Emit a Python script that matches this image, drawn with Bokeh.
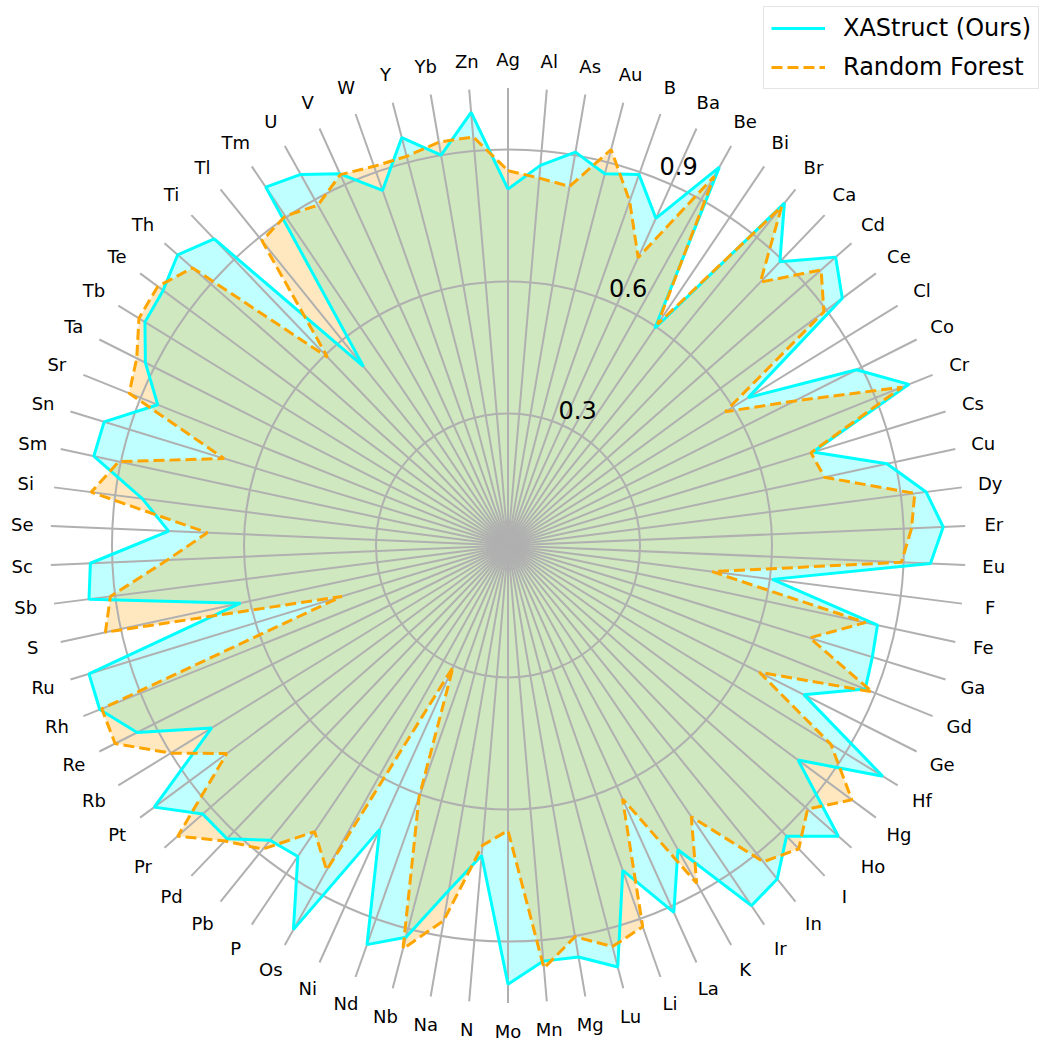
import numpy as np
from bokeh.plotting import figure
from bokeh.models import Legend, LegendItem, Range1d
from bokeh.embed import file_html
from bokeh.resources import INLINE
from bokeh.core.properties import value

# ---------------- data ----------------
elements = ["Ag", "Al", "As", "Au", "B", "Ba", "Be", "Bi", "Br", "Ca", "Cd", "Ce", "Cl", "Co",
            "Cr", "Cs", "Cu", "Dy", "Er", "Eu", "F", "Fe", "Ga", "Gd", "Ge", "Hf", "Hg", "Ho",
            "I", "In", "Ir", "K", "La", "Li", "Lu", "Mg", "Mn", "Mo", "N", "Na", "Nb", "Nd",
            "Ni", "Os", "P", "Pb", "Pd", "Pr", "Pt", "Rb", "Re", "Rh", "Ru", "S", "Sb", "Sc",
            "Se", "Si", "Sm", "Sn", "Sr", "Ta", "Tb", "Te", "Th", "Ti", "Tl", "Tm", "U", "V",
            "W", "Y", "Yb", "Zn"]

xastruct = [0.810, 0.867, 0.907, 0.873, 0.894, 0.816, 0.985, 0.596, 1.000, 0.893, 0.992, 0.945,
            0.641, 0.887, 0.982, 0.725, 0.881, 0.958, 0.990, 0.961, 0.606, 0.859, 0.866, 0.875,
            0.753, 1.000, 0.820, 1.000, 0.915, 0.974, 0.988, 0.792, 0.915, 0.783, 0.990, 0.949,
            0.948, 0.997, 0.707, 0.795, 0.920, 0.962, 0.708, 1.000, 0.853, 0.861, 0.923, 0.924,
            1.000, 0.791, 0.944, 1.000, 0.996, 0.622, 0.960, 0.950, 0.772, 0.838, 0.963, 0.960,
            0.858, 0.923, 0.969, 0.975, 1.000, 0.965, 0.523, 0.983, 0.966, 0.927, 0.856, 0.958,
            0.900, 0.988]

random_forest = [0.852, 0.838, 0.828, 0.930, 0.830, 0.718, 0.961, 0.607, 0.990, 0.829, 0.948,
                 0.893, 0.580, 0.730, 0.965, 0.720, 0.736, 0.932, 0.918, 0.895, 0.468, 0.831,
                 0.717, 0.892, 0.640, 0.862, 0.972, 0.907, 0.955, 0.924, 0.744, 0.879, 0.632,
                 0.919, 0.942, 0.902, 0.964, 0.648, 0.684, 0.865, 0.947, 0.607, 0.303, 0.845,
                 0.785, 0.887, 0.930, 1.000, 0.795, 0.900, 1.000, 0.995, 0.395, 0.936, 0.911,
                 0.775, 0.684, 0.955, 0.905, 0.675, 0.928, 0.945, 0.985, 0.990, 0.955, 0.593,
                 0.890, 0.904, 0.886, 0.925, 0.914, 0.914, 0.930, 0.932]

r_ticks = [0.3, 0.6, 0.9]
r_tick_labels = ["0.3", "0.6", "0.9"]
r_max = 1.04
label_radius = 1.105
r_label_angle_deg = 22.5

# ---------------- geometry ----------------
n = len(elements)
theta = 2 * np.pi * np.arange(n) / n          # clockwise from top
sin_t, cos_t = np.sin(theta), np.cos(theta)

def polar_xy(r):
    r = np.asarray(r, dtype=float)
    return r * sin_t, r * cos_t

xa_x, xa_y = polar_xy(xastruct)
rf_x, rf_y = polar_xy(random_forest)

W, H = 1045, 1042
U = 440.0                  # pixels per unit radius
cx, cy = 507.5, 545.0      # centre in canvas pixels

p = figure(width=W, height=H, output_backend="svg", toolbar_location=None,
           x_axis_type=None, y_axis_type=None, min_border=0,
           x_range=Range1d(-cx / U, (W - cx) / U),
           y_range=Range1d(-(H - cy) / U, cy / U))
p.outline_line_color = None
p.grid.visible = False
p.background_fill_color = "white"

# fills (below grid)
p.patch(xa_x, xa_y, fill_color="cyan", fill_alpha=0.25, line_color=None)
p.patch(rf_x, rf_y, fill_color="orange", fill_alpha=0.25, line_color=None)

# grid: spokes and circles
grid_col = "#b0b0b0"
p.segment(x0=np.zeros(n), y0=np.zeros(n), x1=r_max * sin_t, y1=r_max * cos_t,
          line_color=grid_col, line_width=2.0)
p.circle(x=np.zeros(len(r_ticks)), y=np.zeros(len(r_ticks)), radius=r_ticks,
         fill_color=None, line_color=grid_col, line_width=2.0)

# outlines
l1 = p.line(np.append(xa_x, xa_x[0]), np.append(xa_y, xa_y[0]),
            line_color="cyan", line_width=3.0)
l2 = p.line(np.append(rf_x, rf_x[0]), np.append(rf_y, rf_y[0]),
            line_color="orange", line_width=3.0, line_dash="11 5")

# category labels
lx, ly = label_radius * sin_t, label_radius * cos_t
p.text(x=lx, y=ly, text=elements, text_font=value("DejaVu Sans"), text_font_size="18px",
       text_align="center", text_baseline="middle", text_color="black")

# radial tick labels
ra = np.deg2rad(r_label_angle_deg)
p.text(x=np.array(r_ticks) * np.sin(ra), y=np.array(r_ticks) * np.cos(ra), text=r_tick_labels,
       text_font=value("DejaVu Sans"), text_font_size="24px", y_offset=-5,
       text_align="left", text_baseline="bottom", text_color="black")

legend = Legend(items=[LegendItem(label="XAStruct (Ours)", renderers=[l1]),
                       LegendItem(label="Random Forest", renderers=[l2])],
                location="top_right", margin=6, padding=7, spacing=11,
                glyph_width=54, glyph_height=26, label_standoff=18,
                label_text_font="DejaVu Sans", label_text_font_size="24px",
                label_text_color="black",
                border_line_color="#cccccc", border_line_width=1.2,
                background_fill_color="white", background_fill_alpha=0.8)
p.add_layout(legend)

open("out.html", "w").write(file_html(p, INLINE))
